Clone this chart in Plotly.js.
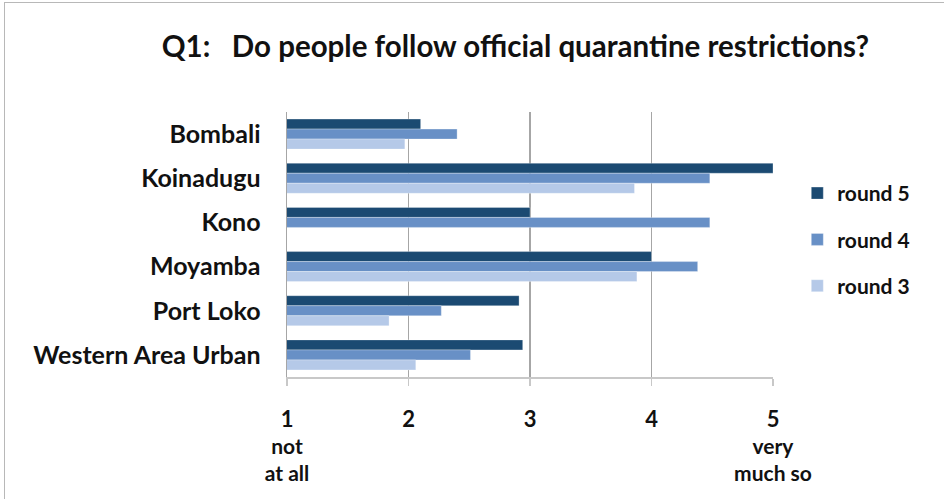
<!DOCTYPE html>
<html>
<head>
<meta charset="utf-8">
<script src="https://cdn.plot.ly/plotly-3.0.1.min.js"></script>
<style>
html,body{margin:0;padding:0;background:#fff;}
#frame{position:absolute;left:4px;top:2px;width:950px;height:510px;border-left:1.5px solid #b8b8b8;border-top:1.5px solid #b8b8b8;}
#chart{position:absolute;left:0;top:0;width:944px;height:499px;}
</style>
</head>
<body>
<div id="frame"></div>
<div id="chart"></div>
<script>
const districts = ["Bombali", "Koinadugu", "Kono", "Moyamba", "Port Loko", "Western Area Urban"];
const round5 = [2.10, 5.00, 3.00, 4.00, 2.91, 2.94];
const round4 = [2.40, 4.48, 4.48, 4.38, 2.27, 2.51];
const round3 = [1.97, 3.86, null, 3.88, 1.84, 2.06];
const seriesNames = ["round 5", "round 4", "round 3"];
const tickVals = [1, 2, 3, 4, 5];
const tickLabels = [
  "<b><span style='font-size:22px'>1</span></b><br><b>not</b><br><b>at all</b>",
  "<b><span style='font-size:22px'>2</span></b>",
  "<b><span style='font-size:22px'>3</span></b>",
  "<b><span style='font-size:22px'>4</span></b>",
  "<b><span style='font-size:22px'>5</span></b><br><b>very</b><br><b>much so</b>"
];

const colors = ["#1b4a72", "#6890c6", "#b5c9e8"];
const series = [round5, round4, round3];
const FONT = "Lato, 'Open Sans', sans-serif";

const traces = series.map((vals, i) => ({
  type: "bar",
  orientation: "h",
  name: "<b>" + seriesNames[i] + "</b>",
  legendgroup: "g" + i,
  y: districts.map(d => d),
  x: vals,
  base: 0,
  marker: {color: colors[i], line: {color: "rgba(255,255,255,0.6)", width: 0.5}},
  hoverinfo: "x+y+name"
}));

const layout = {
  width: 944,
  height: 499,
  paper_bgcolor: "rgba(0,0,0,0)",
  plot_bgcolor: "rgba(0,0,0,0)",
  margin: {l: 287, r: 171, t: 112, b: 122},
  barmode: "group",
  bargap: 0.32,
  bargroupgap: 0,
  font: {family: FONT, color: "#111"},
  title: {
    text: "<b>Q1:   Do people follow official quarantine restrictions?</b>",
    font: {family: FONT, size: 29.5, color: "#111"},
    x: 0.546, xref: "container", xanchor: "center",
    y: 0.906, yref: "container", yanchor: "middle"
  },
  xaxis: {
    range: [1, 5],
    tickvals: tickVals,
    ticktext: tickLabels,
    showgrid: true,
    gridcolor: "#a6a6a6",
    gridwidth: 1.5,
    zeroline: false,
    showline: true,
    linecolor: "#c8c8c8",
    linewidth: 1.5,
    ticks: "outside",
    ticklen: 7,
    tickcolor: "#c8c8c8",
    tickwidth: 1.5,
    ticklabelstandoff: 16,
    tickfont: {family: FONT, size: 21, color: "#111"},
    fixedrange: true
  },
  yaxis: {
    autorange: "reversed",
    type: "category",
    tickvals: districts,
    ticktext: districts.map(d => "<b>" + d + "</b>"),
    showgrid: false,
    showline: true,
    linecolor: "#a6a6a6",
    linewidth: 1.5,
    ticks: "",
    ticklabelstandoff: 20,
    tickfont: {family: FONT, size: 25, color: "#111"},
    fixedrange: true
  },
  showlegend: true,
  legend: {
    x: 1.05, xanchor: "left",
    y: 0.77, yanchor: "top",
    traceorder: "grouped",
    tracegroupgap: 16,
    font: {family: FONT, size: 21, color: "#111"},
    itemwidth: 30,
    bgcolor: "rgba(0,0,0,0)"
  }
};

Plotly.newPlot("chart", traces, layout, {displayModeBar: false, staticPlot: true});
</script>
</body>
</html>
